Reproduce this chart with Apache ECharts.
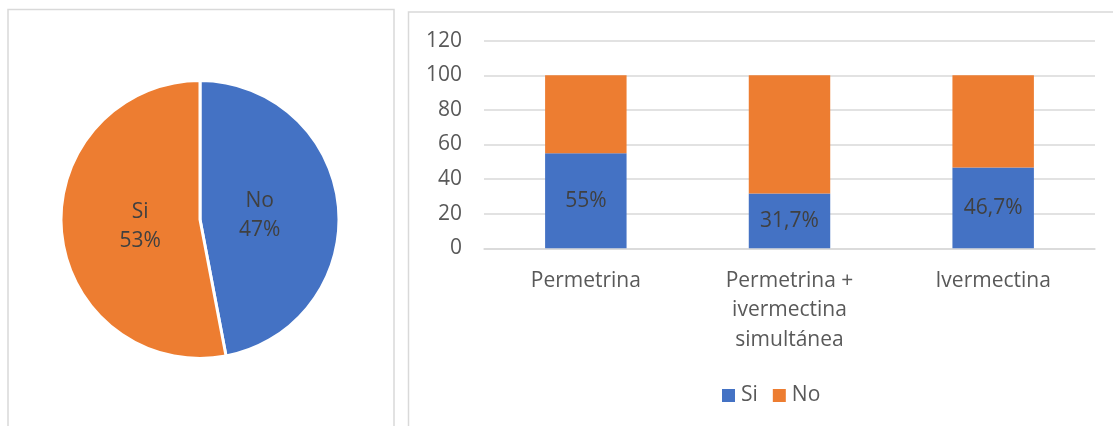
<!DOCTYPE html>
<html>
<head>
<meta charset="utf-8">
<script src="https://cdn.jsdelivr.net/npm/echarts@6/dist/echarts.min.js"></script>
<style>
  html, body { margin: 0; padding: 0; background: #ffffff; }
  #chart { width: 1113px; height: 426px; }
</style>
</head>
<body>
<div id="chart"></div>
<script>
// Pie: share of responses
const pieLabels = ['No', 'Si'];
const pieValues = [47, 53];

// Stacked bars: response by treatment
const categories = ['Permetrina', 'Permetrina +\nivermectina\nsimultánea', 'Ivermectina'];
const siValues = [55, 31.7, 46.7];
const noValues = [45, 68.3, 53.3];
const seriesNames = ['Si', 'No'];

// Value axis ticks
const yMin = 0;
const yMax = 120;
const yStep = 20;

const BLUE = '#4472C4';
const ORANGE = '#ED7D31';
const FONT = '"Open Sans", "Noto Sans", sans-serif';
const FS = 21;

const pctText = v => String(v).replace('.', ',') + '%';

const chart = echarts.init(document.getElementById('chart'), null, { renderer: 'canvas' });

const pieColors = [BLUE, ORANGE];

chart.setOption({
  animation: false,
  textStyle: { fontFamily: FONT },
  graphic: [
    {
      type: 'rect',
      shape: { x: 8, y: 9.5, width: 386, height: 440 },
      style: { fill: 'none', stroke: '#d9d9d9', lineWidth: 1.5 },
      silent: true
    },
    {
      type: 'rect',
      shape: { x: 408.5, y: 12, width: 740, height: 440 },
      style: { fill: 'none', stroke: '#d9d9d9', lineWidth: 1.5 },
      silent: true
    }
  ],
  legend: {
    data: seriesNames,
    left: 717,
    top: 380,
    icon: 'rect',
    itemWidth: 13,
    itemHeight: 13,
    itemGap: 15,
    textStyle: { fontFamily: FONT, fontSize: FS, color: '#595959', padding: [0, 0, 0, 1] }
  },
  grid: {
    left: 484,
    right: 18,
    top: 40.7,
    bottom: 177.7,
    containLabel: false
  },
  xAxis: {
    type: 'category',
    data: categories,
    axisTick: { show: false },
    axisLine: { lineStyle: { color: '#d9d9d9', width: 1.5 } },
    axisLabel: {
      fontFamily: FONT,
      fontSize: FS,
      color: '#595959',
      margin: 18,
      lineHeight: 29.3,
      interval: 0
    }
  },
  yAxis: {
    type: 'value',
    min: yMin,
    max: yMax,
    interval: yStep,
    axisLine: { show: false },
    axisTick: { show: false },
    splitLine: { lineStyle: { color: '#d9d9d9', width: 1.5 } },
    axisLabel: {
      fontFamily: FONT,
      fontSize: FS,
      color: '#595959',
      margin: 22
    }
  },
  series: [
    {
      type: 'pie',
      center: [200, 219.5],
      radius: 139,
      startAngle: 90,
      clockwise: true,
      silent: true,
      data: pieLabels.map((name, i) => ({
        name: name,
        value: pieValues[i],
        itemStyle: { color: pieColors[i] }
      })),
      itemStyle: { borderColor: '#ffffff', borderWidth: 3 },
      label: { show: false },
      labelLine: { show: false }
    },
    {
      // transparent ring that carries the slice labels a bit nearer the centre
      type: 'pie',
      center: [200, 221],
      radius: 114,
      startAngle: 90,
      clockwise: true,
      silent: true,
      z: 3,
      data: pieLabels.map((name, i) => ({ name: name, value: pieValues[i] })),
      itemStyle: { color: 'rgba(0,0,0,0)', borderWidth: 0 },
      label: {
        show: true,
        position: 'inside',
        fontFamily: FONT,
        fontSize: FS,
        lineHeight: 28.5,
        color: '#404040',
        formatter: p => p.name + '\n' + p.value + '%'
      },
      labelLine: { show: false }
    },
    {
      name: seriesNames[0],
      type: 'bar',
      stack: 'total',
      data: siValues,
      barWidth: '40%',
      itemStyle: { color: BLUE },
      label: {
        show: true,
        position: 'inside',
        fontFamily: FONT,
        fontSize: FS,
        color: '#404040',
        formatter: p => pctText(p.value)
      }
    },
    {
      name: seriesNames[1],
      type: 'bar',
      stack: 'total',
      data: noValues,
      barWidth: '40%',
      itemStyle: { color: ORANGE }
    }
  ]
});
</script>
</body>
</html>
